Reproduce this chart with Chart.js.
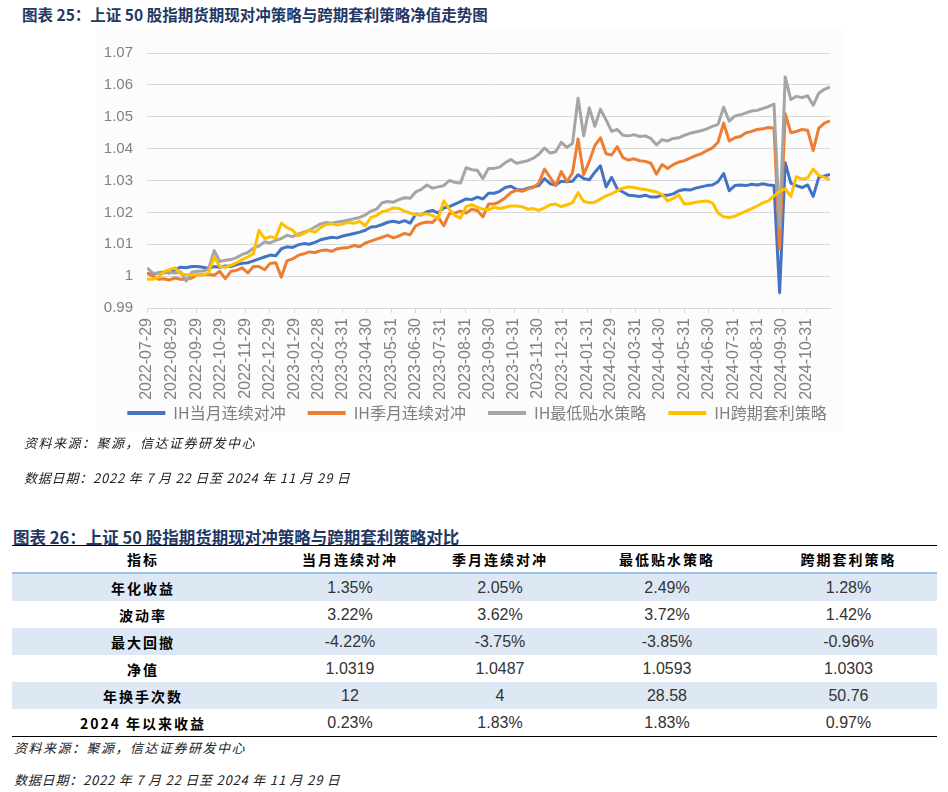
<!DOCTYPE html>
<html lang="zh-CN">
<head>
<meta charset="UTF-8">
<title>上证50股指期货期现对冲与跨期套利策略</title>
<script src="https://cdn.jsdelivr.net/npm/chart.js"></script>
<style>
    body {
        margin: 0;
        padding: 0;
        background: #fff;
        font-family: "Noto Sans CJK SC", sans-serif;
    }
    .page {
        position: relative;
        width: 948px;
        height: 792px;
        overflow: hidden;
    }
    .title {
        position: absolute;
        font-size: 15.5px;
        font-weight: bold;
        color: #1f3864;
        line-height: 20px;
        white-space: nowrap;
    }
    .note {
        position: absolute;
        font-size: 13px;
        font-style: italic;
        color: #222;
        line-height: 18px;
        letter-spacing: 1.5px;
        white-space: nowrap;
    }
    .note.date {
        letter-spacing: 0.8px;
    }
    .chart-bg {
        position: absolute;
        left: 97px;
        top: 30px;
        width: 748px;
        height: 402px;
        background: #fcfcfc;
    }
    #navChart {
        position: absolute;
        left: 97px;
        top: 30px;
    }
    table {
        position: absolute;
        left: 12px;
        top: 545px;
        width: 925px;
        border-collapse: collapse;
        table-layout: fixed;
        border-top: 1.5px solid #000;
        border-bottom: 1.5px solid #000;
    }
    th {
        height: 26px;
        padding: 0;
        font-size: 14px;
        font-weight: bold;
        letter-spacing: 2px;
        color: #000;
        border-bottom: 2px solid #9dc3e6;
    }
    td {
        height: 27px;
        padding: 0;
        text-align: center;
        font-family: "Liberation Sans", sans-serif;
        font-size: 16px;
        color: #333;
    }
    td.name {
        font-family: "Noto Sans CJK SC", sans-serif;
        font-weight: bold;
        font-size: 14px;
        letter-spacing: 2px;
        color: #000;
    }
    tr.shade td {
        background: #dde8f4;
    }
</style>
</head>
<body>
<div class="page">
    <div class="title" style="left:22px; top:4px;">图表 25：上证 50 股指期货期现对冲策略与跨期套利策略净值走势图</div>
    <div class="chart-bg"></div>
    <canvas id="navChart" width="760" height="404"></canvas>
    <div class="note" style="left:24px; top:434px;">资料来源：聚源，信达证券研发中心</div>
    <div class="note date" style="left:24px; top:469px;">数据日期：2022 年 7 月 22 日至 2024 年 11 月 29 日</div>

    <div class="title" style="left:13px; top:527px; font-size:16.5px;">图表 26：上证 50 股指期货期现对冲策略与跨期套利策略对比</div>
    <table id="statTable"></table>
    <div class="note" style="left:14px; top:739px;">资料来源：聚源，信达证券研发中心</div>
    <div class="note date" style="left:14px; top:771px;">数据日期：2022 年 7 月 22 日至 2024 年 11 月 29 日</div>
</div>

<script>
    // axis range and monthly tick labels
    const startDate = '2022-07-29';
    const endDate = '2024-11-29';
    const weekStep = 7; // one value per week (Friday close)
    const monthTickLabels = [
        '2022-07-29', '2022-08-29', '2022-09-29', '2022-10-29', '2022-11-29', '2022-12-29',
        '2023-01-29', '2023-02-28', '2023-03-31', '2023-04-30', '2023-05-31', '2023-06-30',
        '2023-07-31', '2023-08-31', '2023-09-30', '2023-10-31', '2023-11-30', '2023-12-31',
        '2024-01-31', '2024-02-29', '2024-03-31', '2024-04-30', '2024-05-31', '2024-06-30',
        '2024-07-31', '2024-08-31', '2024-09-30', '2024-10-31'
    ];

    const seriesNames = ['IH当月连续对冲', 'IH季月连续对冲', 'IH最低贴水策略', 'IH跨期套利策略'];
    const seriesColors = ['#4472c4', '#ed7d31', '#a5a5a5', '#ffc000'];

    // weekly net values
    const ihMonth = [
        1.0008, 1.0005, 1.0010, 1.0012, 1.0010, 1.0020, 1.0028, 1.0026, 1.0030, 1.0030,
        1.0028, 1.0024, 1.0030, 1.0028, 1.0032, 1.0030, 1.0036, 1.0040, 1.0042, 1.0048,
        1.0054, 1.0060, 1.0066, 1.0064, 1.0086, 1.0092, 1.0090, 1.0098, 1.0102, 1.0100,
        1.0106, 1.0114, 1.0118, 1.0122, 1.0120, 1.0126, 1.0130, 1.0134, 1.0138, 1.0144,
        1.0154, 1.0156, 1.0162, 1.0169, 1.0172, 1.0168, 1.0174, 1.0166, 1.0194, 1.0192,
        1.0202, 1.0206, 1.0198, 1.0214, 1.0218, 1.0226, 1.0234, 1.0242, 1.0240, 1.0248,
        1.0242, 1.0260, 1.0260, 1.0266, 1.0278, 1.0282, 1.0272, 1.0270, 1.0276, 1.0280,
        1.0284, 1.0306, 1.0290, 1.0286, 1.0298, 1.0296, 1.0298, 1.0318, 1.0306, 1.0302,
        1.0326, 1.0346, 1.0280, 1.0310, 1.0274, 1.0264, 1.0254, 1.0252, 1.0250, 1.0254,
        1.0248, 1.0248, 1.0254, 1.0254, 1.0258, 1.0268, 1.0272, 1.0270, 1.0276, 1.0280,
        1.0284, 1.0286, 1.0296, 1.0322, 1.0268, 1.0284, 1.0286, 1.0284, 1.0288, 1.0286,
        1.0290, 1.0286, 1.0284, 0.9948, 1.0356, 1.0292, 1.0284, 1.0278, 1.0286, 1.0250,
        1.0310, 1.0314, 1.0319
    ];
    const ihQuarter = [
        1.0010, 1.0000, 0.9990, 0.9992, 0.9988, 0.9994, 0.9990, 0.9990, 0.9994, 1.0005,
        1.0004, 1.0006, 1.0003, 1.0015, 0.9992, 1.0015, 1.0018, 1.0026, 1.0010, 1.0030,
        1.0030, 1.0020, 1.0040, 1.0042, 0.9997, 1.0048, 1.0054, 1.0065, 1.0070, 1.0076,
        1.0074, 1.0080, 1.0082, 1.0078, 1.0086, 1.0088, 1.0090, 1.0096, 1.0092, 1.0104,
        1.0110, 1.0116, 1.0122, 1.0128, 1.0120, 1.0126, 1.0134, 1.0130, 1.0158, 1.0166,
        1.0170, 1.0168, 1.0186, 1.0158, 1.0196, 1.0198, 1.0204, 1.0198, 1.0210, 1.0206,
        1.0186, 1.0226, 1.0226, 1.0234, 1.0246, 1.0262, 1.0270, 1.0266, 1.0274, 1.0278,
        1.0292, 1.0336, 1.0310, 1.0284, 1.0328, 1.0296, 1.0324, 1.0430, 1.0318, 1.0360,
        1.0410, 1.0434, 1.0384, 1.0380, 1.0406, 1.0372, 1.0364, 1.0368, 1.0362, 1.0360,
        1.0354, 1.0320, 1.0350, 1.0338, 1.0350, 1.0358, 1.0362, 1.0370, 1.0378, 1.0384,
        1.0394, 1.0402, 1.0420, 1.0480, 1.0424, 1.0434, 1.0438, 1.0450, 1.0454, 1.0460,
        1.0462, 1.0466, 1.0464, 1.0085, 1.0510, 1.0450, 1.0454, 1.0460, 1.0458, 1.0394,
        1.0464, 1.0480, 1.0487
    ];
    const ihMinDiscount = [
        1.0026, 1.0010, 1.0008, 1.0010, 1.0012, 1.0010, 1.0014, 0.9985, 1.0012, 1.0015,
        1.0016, 1.0022, 1.0080, 1.0046, 1.0050, 1.0052, 1.0058, 1.0068, 1.0074, 1.0088,
        1.0094, 1.0108, 1.0104, 1.0112, 1.0118, 1.0128, 1.0124, 1.0132, 1.0138, 1.0144,
        1.0154, 1.0164, 1.0168, 1.0166, 1.0170, 1.0172, 1.0176, 1.0180, 1.0184, 1.0192,
        1.0204, 1.0210, 1.0230, 1.0234, 1.0232, 1.0240, 1.0246, 1.0244, 1.0264, 1.0272,
        1.0286, 1.0276, 1.0280, 1.0284, 1.0300, 1.0294, 1.0292, 1.0340, 1.0334, 1.0332,
        1.0306, 1.0338, 1.0338, 1.0342, 1.0356, 1.0366, 1.0354, 1.0358, 1.0362, 1.0370,
        1.0382, 1.0402, 1.0386, 1.0390, 1.0420, 1.0404, 1.0416, 1.0558, 1.0440, 1.0528,
        1.0470, 1.0524, 1.0490, 1.0454, 1.0460, 1.0442, 1.0440, 1.0444, 1.0438, 1.0440,
        1.0432, 1.0412, 1.0428, 1.0424, 1.0432, 1.0434, 1.0442, 1.0448, 1.0452, 1.0456,
        1.0462, 1.0470, 1.0476, 1.0530, 1.0486, 1.0502, 1.0506, 1.0512, 1.0518, 1.0520,
        1.0526, 1.0532, 1.0540, 1.0154, 1.0625, 1.0554, 1.0564, 1.0560, 1.0566, 1.0536,
        1.0574, 1.0586, 1.0593
    ];
    const ihCalendar = [
        0.9990, 0.9990, 0.9996, 1.0014, 1.0020, 1.0026, 1.0008, 1.0004, 1.0004, 1.0005,
        1.0003, 1.0010, 1.0060, 1.0030, 1.0028, 1.0034, 1.0042, 1.0052, 1.0060, 1.0070,
        1.0144, 1.0118, 1.0124, 1.0120, 1.0166, 1.0152, 1.0144, 1.0126, 1.0134, 1.0144,
        1.0138, 1.0152, 1.0162, 1.0164, 1.0160, 1.0164, 1.0168, 1.0166, 1.0172, 1.0158,
        1.0184, 1.0190, 1.0202, 1.0206, 1.0214, 1.0212, 1.0204, 1.0198, 1.0192, 1.0194,
        1.0196, 1.0190, 1.0180, 1.0236, 1.0210, 1.0190, 1.0182, 1.0218, 1.0224, 1.0216,
        1.0210, 1.0208, 1.0216, 1.0212, 1.0216, 1.0220, 1.0220, 1.0218, 1.0210, 1.0212,
        1.0206, 1.0214, 1.0224, 1.0226, 1.0218, 1.0224, 1.0230, 1.0262, 1.0234, 1.0230,
        1.0232, 1.0242, 1.0252, 1.0258, 1.0268, 1.0276, 1.0280, 1.0278, 1.0274, 1.0272,
        1.0268, 1.0264, 1.0256, 1.0236, 1.0244, 1.0254, 1.0226, 1.0228, 1.0232, 1.0234,
        1.0236, 1.0230, 1.0198, 1.0186, 1.0184, 1.0188, 1.0196, 1.0204, 1.0212, 1.0220,
        1.0230, 1.0236, 1.0252, 1.0266, 1.0274, 1.0250, 1.0312, 1.0304, 1.0308, 1.0336,
        1.0316, 1.0310, 1.0303
    ];

    // table 26
    const tableHeads = ['指标', '当月连续对冲', '季月连续对冲', '最低贴水策略', '跨期套利策略'];
    const rowNames = ['年化收益', '波动率', '最大回撤', '净值', '年换手次数', '2024 年以来收益'];
    const monthHedge = ['1.35%', '3.22%', '-4.22%', '1.0319', '12', '0.23%'];
    const quarterHedge = ['2.05%', '3.62%', '-3.75%', '1.0487', '4', '1.83%'];
    const minDiscount = ['2.49%', '3.72%', '-3.85%', '1.0593', '28.58', '1.83%'];
    const calendarArb = ['1.28%', '1.42%', '-0.96%', '1.0303', '50.76', '0.97%'];
    const colWidths = [262, 152, 148, 186, 177];

    function dayOffset(dateStr) {
        return (Date.parse(dateStr) - Date.parse(startDate)) / 86400000;
    }

    function buildTable() {
        const table = document.getElementById('statTable');
        let html = '<colgroup>' + colWidths.map(w => '<col style="width:' + w + 'px">').join('') + '</colgroup>';
        html += '<tr>' + tableHeads.map(h => '<th>' + h + '</th>').join('') + '</tr>';
        const cols = [monthHedge, quarterHedge, minDiscount, calendarArb];
        rowNames.forEach((name, r) => {
            html += '<tr class="' + (r % 2 === 0 ? 'shade' : '') + '">';
            html += '<td class="name">' + name + '</td>';
            cols.forEach(c => { html += '<td>' + c[r] + '</td>'; });
            html += '</tr>';
        });
        table.innerHTML = html;
    }

    function drawChart() {
        const seriesData = [ihMonth, ihQuarter, ihMinDiscount, ihCalendar];

        new Chart(document.getElementById('navChart').getContext('2d'), {
            type: 'line',
            data: {
                datasets: seriesData.map((vals, k) => ({
                    label: seriesNames[k],
                    data: vals.map((v, i) => ({ x: i * weekStep, y: v })),
                    borderColor: seriesColors[k],
                    backgroundColor: seriesColors[k],
                    borderWidth: 3,
                    borderJoinStyle: 'round',
                    pointRadius: 0,
                    pointHoverRadius: 0,
                    pointBorderWidth: 4,
                    pointBorderColor: seriesColors[k],
                    tension: 0,
                    order: seriesData.length - k, // later series on top, like Excel
                    xAxisID: 'x',
                    yAxisID: 'y'
                }))
            },
            options: {
                responsive: false,
                animation: false,
                layout: { padding: { top: 19, right: 0, bottom: 3, left: 0 } },
                plugins: {
                    tooltip: { enabled: false },
                    legend: {
                        position: 'bottom',
                        labels: {
                            usePointStyle: true,
                            pointStyle: 'line',
                            pointStyleWidth: 38,
                            padding: 22,
                            color: '#7f7f7f',
                            font: { family: 'Noto Sans CJK SC', size: 16 },
                            sort: (a, b) => a.datasetIndex - b.datasetIndex
                        }
                    }
                },
                scales: {
                    x: {
                        type: 'linear',
                        min: 0,
                        max: dayOffset(endDate),
                        afterBuildTicks: s => { s.ticks = monthTickLabels.map(d => ({ value: dayOffset(d) })); },
                        afterFit: s => {
                            s.height = 75;
                            s._computeLabelArea = () => null; // let the long date labels run past the axis box
                        },
                        grid: { drawOnChartArea: false, drawTicks: true, tickLength: 5, color: '#d9d9d9' },
                        border: { color: '#d9d9d9' },
                        ticks: {
                            autoSkip: false,
                            minRotation: 90,
                            maxRotation: 90,
                            padding: 5,
                            color: '#808080',
                            font: { family: 'Liberation Sans', size: 16 },
                            callback: (v, i) => monthTickLabels[i]
                        }
                    },
                    y: {
                        min: 0.99,
                        max: 1.07,
                        afterFit: s => { s.width = 50; },
                        grid: { color: '#d9d9d9', drawTicks: false },
                        border: { display: false },
                        ticks: {
                            stepSize: 0.01,
                            padding: 14,
                            color: '#808080',
                            font: { family: 'Liberation Sans', size: 15 },
                            callback: v => String(parseFloat(v.toFixed(2)))
                        }
                    },
                    // empty right axis so the legend centres like the original
                    yPad: {
                        position: 'right',
                        afterFit: s => { s.width = 27; },
                        grid: { display: false },
                        border: { display: false },
                        ticks: { display: false }
                    }
                }
            }
        });
    }

    buildTable();
    drawChart();
</script>
</body>
</html>
